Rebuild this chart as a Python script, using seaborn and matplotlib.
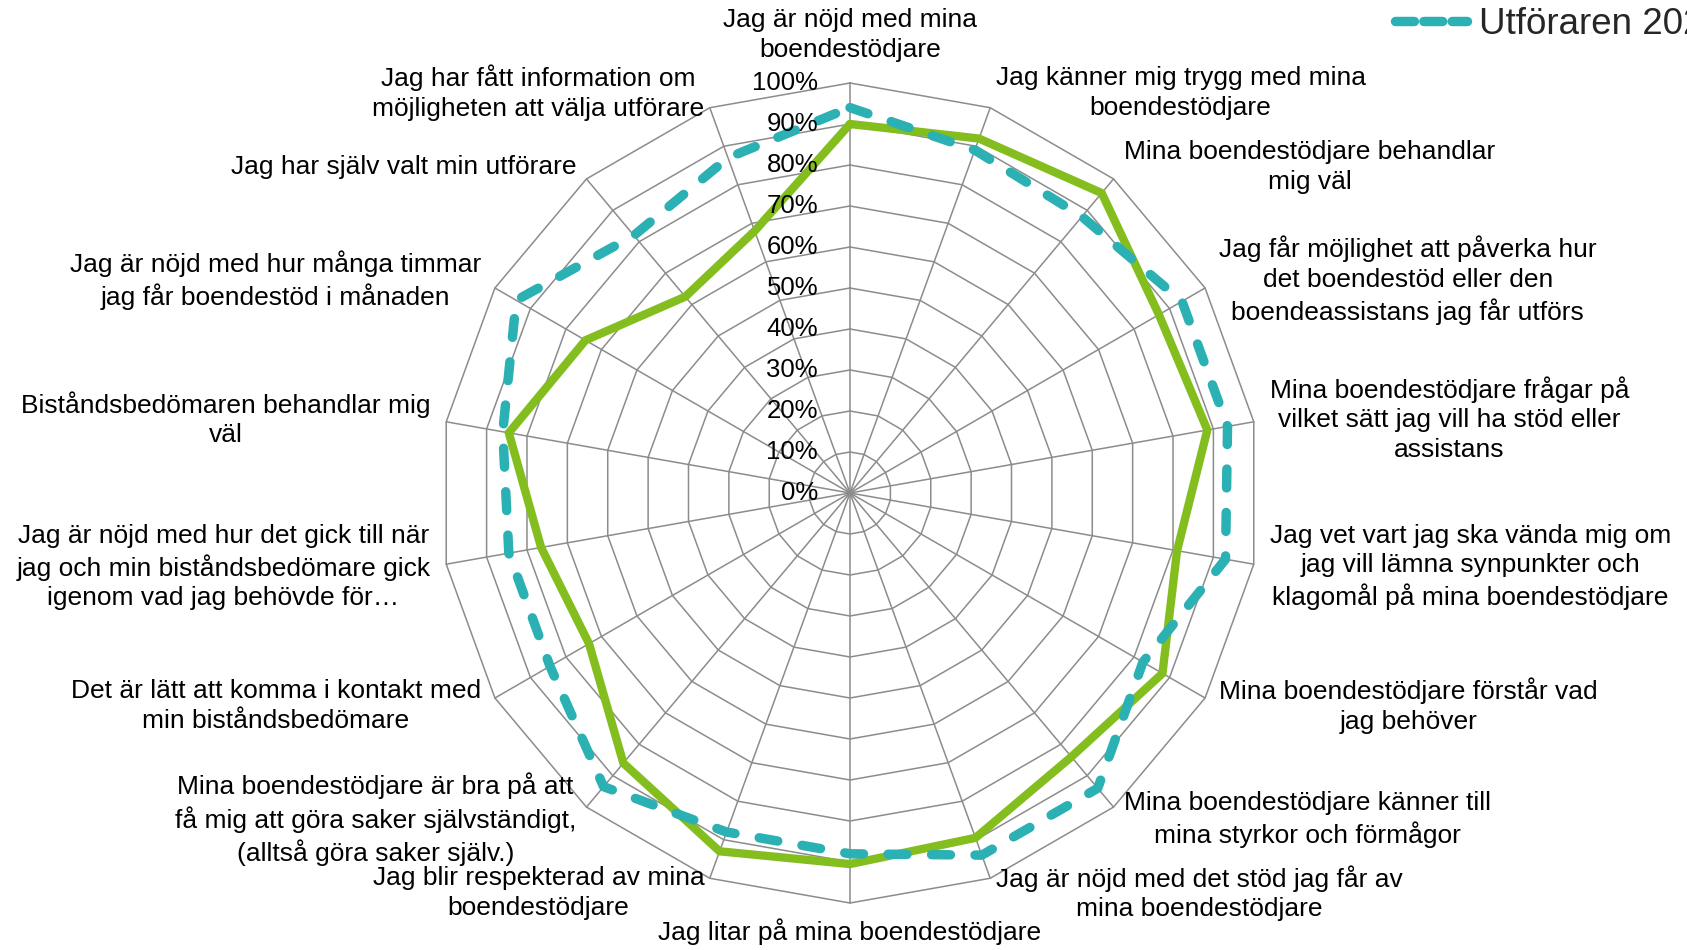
import numpy as np
import pandas as pd
import matplotlib
matplotlib.use("Agg")
import matplotlib.pyplot as plt
import seaborn as sns
from matplotlib.lines import Line2D

sns.set_theme(style="white")
plt.rcParams['font.family'] = ['Liberation Sans', 'DejaVu Sans']

categories = [
    "Jag är nöjd med mina\nboendestödjare",
    "Jag känner mig trygg med mina\nboendestödjare",
    "Mina boendestödjare behandlar\nmig väl",
    "Jag får möjlighet att påverka hur\ndet boendestöd eller den\nboendeassistans jag får utförs",
    "Mina boendestödjare frågar på\nvilket sätt jag vill ha stöd eller\nassistans",
    "Jag vet vart jag ska vända mig om\njag vill lämna synpunkter och\nklagomål på mina boendestödjare",
    "Mina boendestödjare förstår vad\njag behöver",
    "Mina boendestödjare känner till\nmina styrkor och förmågor",
    "Jag är nöjd med det stöd jag får av\nmina boendestödjare",
    "Jag litar på mina boendestödjare",
    "Jag blir respekterad av mina\nboendestödjare",
    "Mina boendestödjare är bra på att\nfå mig att göra saker självständigt,\n(alltså göra saker själv.)",
    "Det är lätt att komma i kontakt med\nmin biståndsbedömare",
    "Jag är nöjd med hur det gick till när\njag och min biståndsbedömare gick\nigenom vad jag behövde för…",
    "Biståndsbedömaren behandlar mig\nväl",
    "Jag är nöjd med hur många timmar\njag får boendestöd i månaden",
    "Jag har själv valt min utförare",
    "Jag har fått information om\nmöjligheten att välja utförare",
]

series_name = "Utföraren 2023"
utforaren = [94, 89, 88, 93.5, 93.5, 93, 82.5, 94, 94, 88, 88, 93.5, 84.5, 84.5, 86, 94, 82, 87]
alla = [90, 92, 95.5, 87, 88.5, 81, 88, 84, 89.5, 90.5, 93, 86, 73.5, 76.5, 84.5, 74.5, 62.5, 68]

ticks = [0, 10, 20, 30, 40, 50, 60, 70, 80, 90, 100]
tick_labels = [f"{t}%" for t in ticks]

TEAL = "#2BB0B3"
GREEN = "#84BE1E"
GRID = "#8C8C8C"

n = len(categories)
theta = np.arange(n) * 2 * np.pi / n
theta_closed = np.append(theta, 2 * np.pi)

fig = plt.figure(figsize=(16.87, 9.5), dpi=100)
ax = fig.add_axes([440 / 1687, 47 / 950, 820 / 1687, 820 / 950], projection="polar")
ax.set_theta_zero_location("N")
ax.set_theta_direction(-1)
ax.set_ylim(0, 1)
ax.grid(False)
ax.spines["polar"].set_visible(False)
ax.set_xticks([])
ax.set_yticks([])
ax.patch.set_visible(False)

# polygon gridlines
for t in ticks[1:]:
    r = t / 100
    ax.plot(theta_closed, [r] * (n + 1), color=GRID, lw=1.1, zorder=1, clip_on=False)
for th in theta:
    ax.plot([th, th], [0, 1], color=GRID, lw=1.1, zorder=1, clip_on=False)

def close(v):
    v = np.asarray(v, dtype=float) / 100
    return np.append(v, v[0])

df_g = pd.DataFrame({"theta": theta_closed, "r": close(alla)})
df_t = pd.DataFrame({"theta": theta_closed, "r": close(utforaren)})

sns.lineplot(data=df_g, x="theta", y="r", ax=ax, sort=False, estimator=None,
             color=GREEN, lw=6.0, zorder=3, clip_on=False, legend=False,
             solid_joinstyle="miter")
sns.lineplot(data=df_t, x="theta", y="r", ax=ax, sort=False, estimator=None,
             color=TEAL, lw=6.8, zorder=4, clip_on=False, legend=False,
             linestyle=(0, (2.0, 2.6)), dash_capstyle="round")
ax.set_xlabel("")
ax.set_ylabel("")
ax.set_xticks([])
ax.set_yticks([])
ax.set_ylim(0, 1)

# radial tick labels
for t, lab in zip(ticks, tick_labels):
    ax.annotate(lab, xy=(0, t / 100), xytext=(-23, 0), textcoords="offset points",
                ha="right", va="center", fontsize=18.5, color="black", zorder=5)

# category labels
for th, lab in zip(theta, categories):
    s, c = np.sin(th), np.cos(th)
    if abs(s) < 0.05:
        ha = "center"
        if c > 0:
            va, off = "bottom", (0, 15)
        else:
            va, off = "top", (0, -11)
    else:
        ha = "left" if s > 0 else "right"
        va = "center"
        off = (11.5 * s, 11.5 * c)
    ax.annotate(lab, xy=(th, 1.0), xytext=off, textcoords="offset points",
                ha=ha, va=va, multialignment="center", fontsize=19, color="black",
                linespacing=1.3, annotation_clip=False)

handles = [
    Line2D([0], [0], color=TEAL, lw=6.8, linestyle=(0, (2.0, 1.0)), dash_capstyle="round"),
]
fig.legend(handles, [series_name], loc="center left", bbox_to_anchor=(1395 / 1687, 1 - 24 / 950),
           frameon=False, fontsize=26.5, handlelength=1.95, handletextpad=0.33,
           borderpad=0, borderaxespad=0)

fig.savefig("out.png", dpi=100)
